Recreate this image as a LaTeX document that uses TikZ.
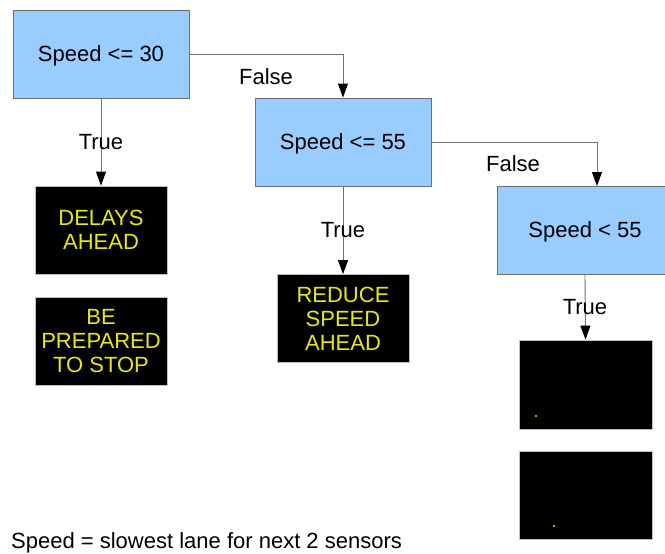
\documentclass[tikz,border=0pt]{standalone}
\usepackage{fontspec}
\setmainfont{Liberation Sans}
\usetikzlibrary{arrows.meta}
\definecolor{boxblue}{HTML}{99CCFF}
\definecolor{linegray}{HTML}{707070}
\definecolor{signyellow}{RGB}{232,232,20}
\begin{document}
\begin{tikzpicture}[x=1pt,y=-1pt,
  every node/.style={font=\fontsize{22}{24}\selectfont, inner sep=0pt},
  testbox/.style={draw=linegray, line width=0.9pt, fill=boxblue, minimum width=176pt, minimum height=88pt, text depth=0pt},
  signbox/.style={draw=gray!50, line width=0.8pt, fill=black, text=signyellow, minimum width=132pt, minimum height=88pt, align=center},
  conn/.style={draw=linegray, line width=0.9pt, -{Triangle[length=14pt,width=10pt,color=black]}},
  lbl/.style={text=black, text depth=0pt}]
\useasboundingbox (0,0) rectangle (665,554);
\clip (0,0) rectangle (665,554);
\fill[white] (0,0) rectangle (665,554);
% tests
\node[testbox] (t1) at (101,54) {Speed <= 30};
\node[testbox] (t2) at (343,142) {Speed <= 55};
\node[testbox] (t3) at (585,230) {Speed < 55};
% signs
\node[signbox] (s1) at (101,230) {DELAYS\\AHEAD};
\node[signbox] (s2) at (101,341) {BE\\PREPARED\\TO STOP};
\node[signbox] (s3) at (343,318.5) {REDUCE\\SPEED\\AHEAD};
\node[signbox, minimum width=133pt, minimum height=89pt] (s4) at (585.5,384.5) {};
\node[signbox, minimum width=133pt, minimum height=88pt] (s5) at (585.5,495) {};
\fill[signyellow] (536,416) circle (1.1pt);
\fill[signyellow] (554,526) circle (1.1pt);
% connectors
\coordinate (t3in) at (597,186);
\draw[conn] (t1.east) -| (t2.north);
\draw[conn] (t2.east) -| (t3in);
\draw[conn] (t1.south) -- (s1.north);
\draw[conn] (t2.south) -- (s3.north);
\draw[conn] (t3.south) -- (s4.north);
% labels
\node[lbl] (f1) at (266,77) {False};
\node[lbl] (f2) at (513,164) {False};
\node[lbl] (tr1) at (101,142) {True};
\node[lbl] (tr2) at (343,230) {True};
\node[lbl] (tr3) at (585,307) {True};
\node[lbl, anchor=west] (note) at (11,540.5) {Speed = slowest lane for next 2 sensors};
\end{tikzpicture}
\end{document}
